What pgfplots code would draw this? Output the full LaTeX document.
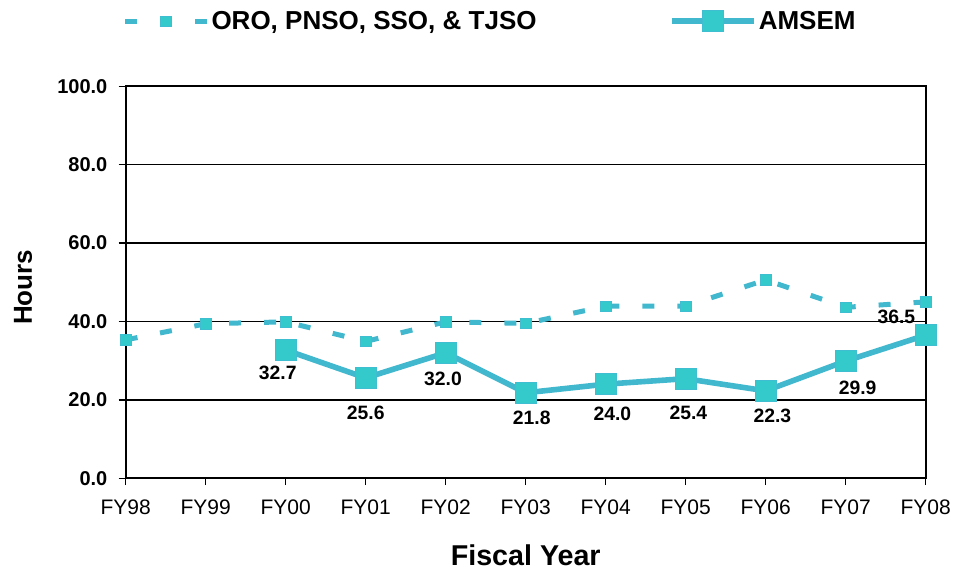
\documentclass[border=0pt]{standalone}
\usepackage{pgfplots}
\pgfplotsset{compat=1.18}
\usepackage{pgfplotstable}
\usepackage{fontspec}
\setmainfont{Liberation Sans}
\definecolor{lineC}{RGB}{66,184,206}
\definecolor{markC}{RGB}{52,202,204}
\definecolor{markB}{RGB}{62,190,208}

\pgfplotstableread{
x y
0 35.3
1 39.4
2 39.9
3 34.9
4 39.9
5 39.5
6 43.9
7 43.9
8 50.6
9 43.6
10 45.0
}\others

\pgfplotstableread{
x y dx dy lab
2 32.7 -6 -17 32.7
3 25.6 0 -26 25.6
4 32.0 -2 -19.5 32.0
5 21.8 4.5 -19 21.8
6 24.0 5 -22.5 24.0
7 25.4 2 -25.5 25.4
8 22.3 5 -19 22.3
9 29.9 9 -20 29.9
10 36.5 -22 13.5 36.5
}\amsem

\begin{document}
\begin{tikzpicture}
\begin{axis}[
  scale only axis,
  width=600pt, height=294pt,
  xmin=0, xmax=10, ymin=0, ymax=100,
  xtick={0,...,10},
  xticklabels={FY98,FY99,FY00,FY01,FY02,FY03,FY04,FY05,FY06,FY07,FY08},
  ytick={0,20,...,100},
  xtick pos=left, ytick pos=left,
  tick align=outside,
  major tick length=5.25pt,
  tick style={black, line width=1pt},
  axis line style={black, line width=1.5pt},
  ymajorgrids,
  major grid style={black, line width=1pt},
  clip=false,
  /pgf/number format/assume math mode=true,
  yticklabel style={font=\fontsize{15}{18}\selectfont\bfseries, xshift=-5pt,
    /pgf/number format/.cd, fixed, fixed zerofill, precision=1},
  xticklabel style={font=\fontsize{15.75}{18}\selectfont, yshift=-7.5pt},
  xlabel={Fiscal Year},
  ylabel={Hours},
  every axis x label/.style={at={(axis description cs:0.5,0)}, yshift=-58pt, anchor=center, inner sep=0pt,
    font=\fontsize{21.5}{24}\selectfont\bfseries},
  every axis y label/.style={at={(axis description cs:0,0.487)}, xshift=-77pt, anchor=center, rotate=90, inner sep=0pt,
    font=\fontsize{19.5}{22}\selectfont\bfseries},
  legend columns=2,
  legend style={draw=none, fill=none, at={(-0.004,1.166)}, anchor=west, inner sep=0pt, outer sep=0pt,
    font=\fontsize{19.5}{22}\selectfont\bfseries,
    nodes={inner xsep=1.5pt, inner ysep=2pt},
    /tikz/every even column/.append style={column sep=98pt}},
  legend image code/.code={\draw[mark repeat=2,mark phase=2,#1] plot coordinates {(0pt,0pt) (30.75pt,0pt) (61.5pt,0pt)};},
]
\coordinate (sw) at (rel axis cs:0,0);
\coordinate (ne) at (rel axis cs:1,1);
\addplot[lineC, line width=3.75pt, dash pattern=on 9pt off 17.25pt,
  mark=square*, mark size=3.9pt, mark options={solid, fill=markC, draw=markB, line width=0.5pt}]
  table[x=x,y=y] {\others};
\addlegendentry{ORO, PNSO, SSO, \& TJSO}
\addplot[lineC, line width=4.2pt,
  mark=square*, mark size=7.9pt, mark options={solid, fill=markC, draw=markB, line width=0.75pt},
  point meta=explicit symbolic,
  nodes near coords,
  visualization depends on={\thisrow{dx} \as \dx},
  visualization depends on={\thisrow{dy} \as \dy},
  every node near coord/.append style={anchor=center, xshift=\dx pt, yshift=\dy pt,
    font=\fontsize{14.5}{17}\selectfont\bfseries, text=black}]
  table[x=x,y=y,meta=lab] {\amsem};
\addlegendentry{AMSEM}
\end{axis}
\pgfresetboundingbox
\path[use as bounding box] ([xshift=-94.3pt,yshift=-69.4pt]sw) rectangle ([xshift=22pt,yshift=64.7pt]ne);
\end{tikzpicture}
\end{document}
